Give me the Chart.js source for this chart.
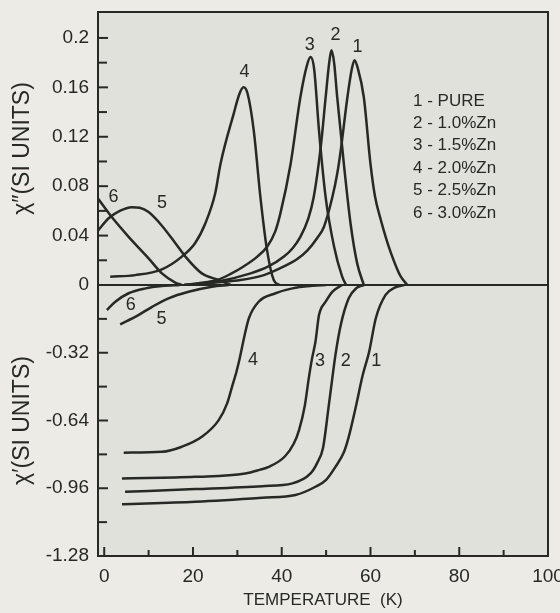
<!DOCTYPE html>
<html><head><meta charset="utf-8">
<script src="https://cdn.jsdelivr.net/npm/chart.js@4/dist/chart.umd.min.js"></script>
<style>html,body{margin:0;padding:0;background:#ecebe6;} canvas{display:block;}</style>
</head><body>
<canvas id="c" width="560" height="613"></canvas>
<script>
// ---------- DATA ----------
const seriesNames = ['1 - PURE', '2 - 1.0%Zn', '3 - 1.5%Zn', '4 - 2.0%Zn', '5 - 2.5%Zn', '6 - 3.0%Zn'];

// chi'' (upper panel): temperatures and values
const tImag1 = [20, 25, 30.7, 36, 40.5, 43.5, 45.8, 48, 49.5, 51.4, 52.5, 53.3, 54.8, 55.8, 56.4, 57.1, 58.5, 60, 61, 62.3, 63.5, 64.6, 66, 66.8, 68.3];
const imag1  = [0, 0.002, 0.004, 0.008, 0.015, 0.021, 0.028, 0.038, 0.047, 0.071, 0.09, 0.109, 0.152, 0.175, 0.182, 0.176, 0.152, 0.098, 0.072, 0.053, 0.038, 0.026, 0.013, 0.007, 0];
const tImag2 = [18, 25.4, 33, 37, 40.5, 42.5, 44.2, 46, 47.2, 48.8, 49.9, 50.7, 51.2, 51.8, 52.5, 54, 55.5, 57, 58.5];
const imag2  = [0, 0.0027, 0.0094, 0.015, 0.023, 0.03, 0.039, 0.054, 0.071, 0.112, 0.152, 0.18, 0.19, 0.18, 0.152, 0.098, 0.05, 0.0175, 0];
const tImag3 = [18, 25.4, 28.5, 31.4, 34.5, 36.7, 38.5, 39.7, 42, 44.2, 45.7, 46.5, 47.3, 48.4, 49.9, 51.8, 53.6, 54.5];
const imag3  = [0, 0.004, 0.009, 0.015, 0.023, 0.031, 0.043, 0.058, 0.098, 0.152, 0.178, 0.1845, 0.175, 0.125, 0.071, 0.031, 0.007, 0];
const tImag4 = [1.35, 7, 13, 17.5, 20.5, 22.8, 25, 26.2, 29.2, 30.5, 31.4, 32.3, 33.7, 35.2, 36.7, 38.2, 39.5];
const imag4  = [0.0067, 0.008, 0.0127, 0.023, 0.034, 0.05, 0.074, 0.098, 0.139, 0.155, 0.16, 0.155, 0.125, 0.071, 0.028, 0.004, 0];
const tImag5 = [-1.4, 1, 3.5, 6.2, 8, 10, 13, 16, 18.3, 22, 25.8, 28.5];
const imag5  = [0.044, 0.054, 0.06, 0.063, 0.0625, 0.059, 0.048, 0.034, 0.023, 0.0094, 0.004, 0];
const tImag6 = [-1.4, 1.7, 5.5, 10, 13, 16, 17.5];
const imag6  = [0.07, 0.055, 0.039, 0.0216, 0.0094, 0.002, 0];

// chi' (lower panel): temperatures and values
const tReal1 = [4, 20.5, 35.6, 43.1, 47.6, 50, 52.1, 54, 55.1, 56.7, 58.2, 59.7, 61.2, 63.4, 65.5, 67.6];
const real1  = [-1.035, -1.024, -1.005, -0.992, -0.953, -0.92, -0.859, -0.79, -0.717, -0.575, -0.43, -0.315, -0.157, -0.047, -0.012, 0];
const tReal2 = [4.7, 20.5, 35.6, 42.4, 46.5, 48, 49.3, 50.6, 51.4, 52.1, 53.3, 55.1, 56.8, 58.5];
const real2  = [-0.977, -0.964, -0.95, -0.937, -0.89, -0.84, -0.77, -0.57, -0.44, -0.331, -0.189, -0.063, -0.015, 0];
const tReal3 = [4, 20.5, 31.8, 35, 37.1, 40.7, 42.7, 43.9, 45.2, 46.1, 46.8, 47.6, 48.4, 49.9, 51.5, 53.6];
const real3  = [-0.914, -0.906, -0.89, -0.873, -0.859, -0.81, -0.75, -0.685, -0.57, -0.44, -0.35, -0.268, -0.142, -0.079, -0.03, 0];
const tReal4 = [4.4, 13, 17.5, 22, 25.8, 27.7, 28.8, 29.8, 30.6, 31.5, 32.6, 34.8, 38.6, 42.4, 47, 50];
const real4  = [-0.792, -0.788, -0.764, -0.717, -0.638, -0.559, -0.481, -0.41, -0.34, -0.25, -0.157, -0.079, -0.039, -0.016, -0.004, 0];
const tReal5 = [3.6, 7.7, 10.8, 14.5, 19, 24.3, 28];
const real5  = [-0.186, -0.142, -0.103, -0.063, -0.032, -0.008, 0];
const tReal6 = [0.6, 2.5, 5.5, 9.3, 13, 17];
const real6  = [-0.118, -0.079, -0.039, -0.016, -0.005, 0];

// axis ticks
const tempTicks = [0, 20, 40, 60, 80, 100];
const tempMinorTicks = [10, 30, 50, 70, 90];
const imagTicks = [0, 0.04, 0.08, 0.12, 0.16, 0.2];
const imagMinorTicks = [0.02, 0.06, 0.1, 0.14, 0.18];
const realTicks = [-0.32, -0.64, -0.96, -1.28];
const realMinorTicks = [-0.16, -0.48, -0.8, -1.12];

// ---------- CHART ----------
const INK = '#262924';
const FONT = '"Liberation Sans", Arial, sans-serif';
const imagT = [tImag1, tImag2, tImag3, tImag4, tImag5, tImag6];
const imagV = [imag1, imag2, imag3, imag4, imag5, imag6];
const realT = [tReal1, tReal2, tReal3, tReal4, tReal5, tReal6];
const realV = [real1, real2, real3, real4, real5, real6];
const toPts = (ts, vs) => ts.map((t, i) => ({x: t, y: vs[i]}));

const lineStyle = {borderColor: INK, borderWidth: 2.5, pointRadius: 0, fill: false, cubicInterpolationMode: 'monotone'};
const datasets = [];
seriesNames.forEach((name, i) => {
  datasets.push(Object.assign({label: name + ' (χ″)', data: toPts(imagT[i], imagV[i]), yAxisID: 'yT'}, lineStyle));
  datasets.push(Object.assign({label: name + ' (χ′)', data: toPts(realT[i], realV[i]), yAxisID: 'yB'}, lineStyle));
});

// curve number labels placed in data coordinates
const curveLabels = [
  {s: 0, x: 57.1, y: 0.193, axis: 'yT'}, {s: 1, x: 52.1, y: 0.202, axis: 'yT'}, {s: 2, x: 46.3, y: 0.194, axis: 'yT'},
  {s: 3, x: 31.6, y: 0.172, axis: 'yT'}, {s: 5, x: 2.1, y: 0.0714, axis: 'yT'}, {s: 4, x: 13, y: 0.066, axis: 'yT'},
  {s: 5, x: 6, y: -0.0945, axis: 'yB'}, {s: 4, x: 12.9, y: -0.162, axis: 'yB'}, {s: 3, x: 33.5, y: -0.354, axis: 'yB'},
  {s: 2, x: 48.6, y: -0.359, axis: 'yB'}, {s: 1, x: 54.4, y: -0.359, axis: 'yB'}, {s: 0, x: 61.3, y: -0.359, axis: 'yB'}
];

const framePlugin = {
  id: 'frame',
  beforeDraw(chart) {
    const {ctx, chartArea: a} = chart;
    ctx.save();
    ctx.fillStyle = '#e1e1dc';
    ctx.fillRect(a.left, a.top, a.right - a.left, a.bottom - a.top);
    ctx.restore();
  },
  afterDatasetsDraw(chart) {
    const {ctx, chartArea: a, scales} = chart;
    ctx.save();
    ctx.strokeStyle = INK;
    ctx.lineWidth = 2;
    ctx.strokeRect(a.left, a.top, a.right - a.left, a.bottom - a.top);
    const y0 = scales.yT.getPixelForValue(0);
    ctx.beginPath(); ctx.moveTo(a.left, y0); ctx.lineTo(a.right, y0); ctx.stroke();
    const ytick = (sc, vals, len) => vals.forEach(v => {
      const p = sc.getPixelForValue(v);
      ctx.beginPath(); ctx.moveTo(a.left, p); ctx.lineTo(a.left + len, p); ctx.stroke();
    });
    ytick(scales.yT, imagTicks, 10); ytick(scales.yT, imagMinorTicks, 9);
    ytick(scales.yB, realTicks, 10); ytick(scales.yB, realMinorTicks, 9);
    const xtick = (vals, len) => vals.forEach(v => {
      const p = scales.x.getPixelForValue(v);
      ctx.beginPath(); ctx.moveTo(p, a.bottom); ctx.lineTo(p, a.bottom - len); ctx.stroke();
    });
    xtick(tempTicks, 9); xtick(tempMinorTicks, 6);
    ctx.restore();
  },
  afterDraw(chart) {
    const {ctx, chartArea: a, scales} = chart;
    ctx.save();
    ctx.fillStyle = INK;
    ctx.font = '18px ' + FONT;
    ctx.textAlign = 'center';
    ctx.textBaseline = 'middle';
    curveLabels.forEach(l => {
      ctx.fillText(String(l.s + 1), scales.x.getPixelForValue(l.x), scales[l.axis].getPixelForValue(l.y));
    });
    ctx.font = '17px ' + FONT;
    ctx.textAlign = 'left';
    seriesNames.forEach((n, i) => ctx.fillText(n, a.left + 315, a.top + 89 + i * 22.4));
    ctx.restore();
  }
};

const yCommon = {
  type: 'linear', position: 'left', stack: 'chi',
  grid: {display: false, drawTicks: false}, border: {display: false},
  ticks: {color: INK, font: {size: 19, family: FONT}, padding: 9, autoSkip: false,
          callback: v => String(v)},
  afterFit: s => { s.width = 98; s.paddingTop = 0; s.paddingBottom = 0; }
};

new Chart(document.getElementById('c'), {
  type: 'line',
  data: {datasets},
  plugins: [framePlugin],
  options: {
    responsive: false, animation: false, devicePixelRatio: 1,
    layout: {padding: {top: 12, right: 12, left: 0, bottom: 0}},
    plugins: {legend: {display: false}, tooltip: {enabled: false}},
    scales: {
      x: {
        type: 'linear', min: -1.4, max: 100,
        grid: {display: false, drawTicks: false}, border: {display: false},
        afterBuildTicks: s => { s.ticks = tempTicks.map(v => ({value: v})); },
        ticks: {color: INK, font: {size: 19, family: FONT}, padding: 9, maxRotation: 0, autoSkip: false},
        title: {display: true, text: 'TEMPERATURE  (K)', color: INK, font: {size: 17, family: FONT}, padding: {top: 0, bottom: 2}},
        afterFit: s => { s.height = 57; s.paddingLeft = 0; s.paddingRight = 0; }
      },
      yB: Object.assign({}, yCommon, {
        min: -1.28, max: 0, stackWeight: 271,
        afterBuildTicks: s => { s.ticks = realTicks.map(v => ({value: v})); },
        title: {display: true, text: 'χ′(SI UNITS)', color: INK, font: {size: 23, family: FONT}, padding: {top: 9, bottom: 0}}
      }),
      yT: Object.assign({}, yCommon, {
        min: 0, max: 0.221, stackWeight: 273,
        afterBuildTicks: s => { s.ticks = imagTicks.map(v => ({value: v})); },
        title: {display: true, text: 'χ″(SI UNITS)', color: INK, font: {size: 23, family: FONT}, padding: {top: 9, bottom: 0}}
      })
    }
  }
});
</script>
</body></html>
